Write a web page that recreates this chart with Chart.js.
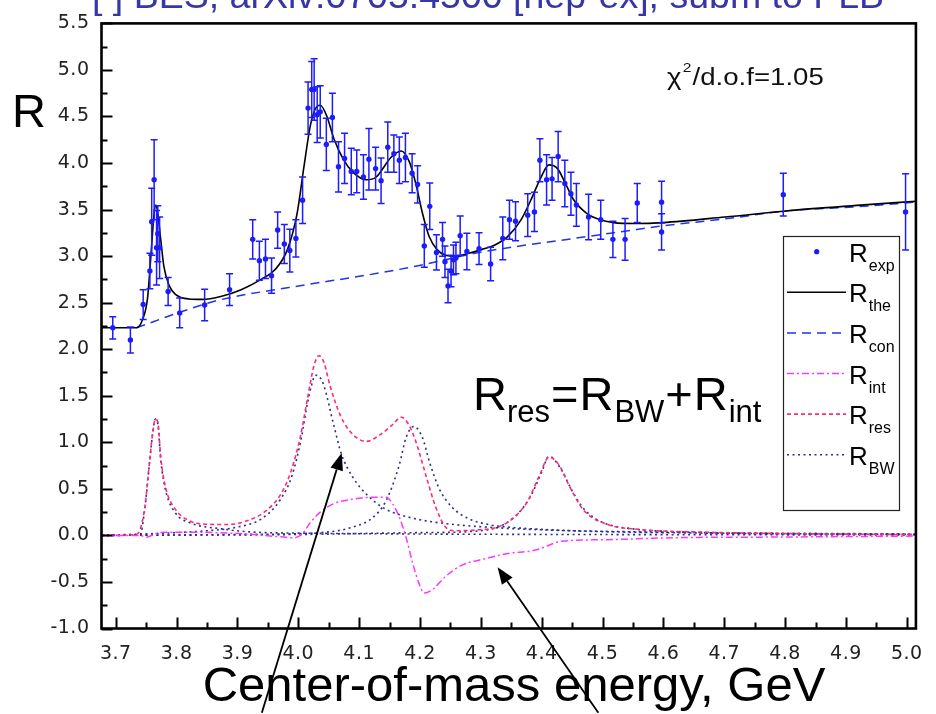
<!DOCTYPE html>
<html>
<head>
<meta charset="utf-8">
<script src="https://cdn.jsdelivr.net/npm/chart.js@4.4.1/dist/chart.umd.min.js"></script>
<style>
  html, body { margin: 0; padding: 0; background: #fff; overflow: hidden; }
  #wrap { position: relative; width: 936px; height: 714px; }
</style>
</head>
<body>
<div id="wrap"><canvas id="c" width="936" height="714"></canvas></div>
<script>
// ---- axis tick labels ----
const xTickLabels = ['3.7','3.8','3.9','4.0','4.1','4.2','4.3','4.4','4.5','4.6','4.7','4.8','4.9','5.0'];
const yTickLabels = ['-1.0','-0.5','0.0','0.5','1.0','1.5','2.0','2.5','3.0','3.5','4.0','4.5','5.0','5.5'];

// ---- measured R values (BES scan) with errors ----
const expEnergy = [3.695,3.724,3.745,3.756,3.759,3.763,3.767,3.769,3.772,3.786,3.805,3.846,3.887,
  3.925,3.936,3.946,3.956,3.966,3.977,3.986,3.996,4.007,4.016,4.022,4.026,4.031,4.036,4.046,4.056,
  4.066,4.076,4.087,4.096,4.107,4.116,4.127,4.136,4.147,4.157,4.166,4.176,4.187,4.196,4.207,4.216,
  4.227,4.237,4.241,4.246,4.251,4.255,4.259,4.266,4.277,4.297,4.316,4.336,4.347,4.357,4.377,4.388,
  4.397,4.408,4.417,4.427,4.438,4.448,4.457,4.477,4.497,4.517,4.537,4.557,4.597,4.597,4.797,4.998];
const expR = [2.23,2.10,2.48,2.84,3.37,3.82,3.09,3.24,3.09,2.62,2.39,2.475,2.64,
  3.18,2.95,2.97,2.79,3.28,3.13,3.06,3.19,3.60,4.59,4.79,4.79,4.52,4.55,4.20,4.49,
  3.96,4.05,3.91,3.91,3.85,4.04,3.94,3.81,4.17,4.10,4.03,4.06,3.89,3.77,3.11,3.535,
  3.04,3.18,2.94,2.68,2.84,2.96,2.98,3.22,3.05,3.08,2.915,3.19,3.39,3.375,3.44,3.475,
  4.03,3.82,3.83,4.07,3.78,3.67,3.55,3.42,3.39,3.18,3.18,3.57,3.58,3.26,3.66,3.475];
const expErr = [0.12,0.14,0.16,0.19,0.36,0.43,0.40,0.30,0.33,0.15,0.16,0.17,0.17,
  0.21,0.21,0.21,0.19,0.195,0.21,0.23,0.20,0.25,0.28,0.30,0.33,0.30,0.28,0.28,0.26,
  0.27,0.27,0.25,0.23,0.24,0.33,0.23,0.245,0.27,0.20,0.25,0.26,0.21,0.20,0.23,0.25,
  0.19,0.18,0.17,0.18,0.17,0.16,0.17,0.21,0.195,0.17,0.18,0.23,0.21,0.21,0.23,0.21,
  0.23,0.27,0.23,0.27,0.25,0.23,0.23,0.245,0.21,0.195,0.225,0.21,0.225,0.195,0.23,0.41];

// ---- fitted total R ----
const theE = [3.6765,3.734,3.744,3.752,3.758,3.763,3.766,3.769,3.774,3.779,3.788,3.798,3.820,3.842,
  3.874,3.906,3.939,3.961,3.982,3.998,4.009,4.020,4.031,4.036,4.047,4.058,4.074,4.090,4.112,4.128,
  4.144,4.152,4.169,4.182,4.193,4.204,4.215,4.228,4.242,4.258,4.280,4.301,4.323,4.344,4.366,4.382,
  4.399,4.412,4.426,4.439,4.453,4.474,4.496,4.518,4.555,4.599,4.701,4.809,4.918,5.015];
const theR = [2.23,2.23,2.32,2.54,3.03,3.46,3.55,3.46,3.17,2.89,2.68,2.59,2.54,2.535,
  2.57,2.64,2.75,2.85,3.07,3.46,3.95,4.41,4.61,4.62,4.50,4.27,4.04,3.90,3.82,3.85,
  3.99,4.06,4.13,4.02,3.78,3.46,3.21,3.07,3.01,3.00,3.03,3.07,3.12,3.21,3.39,3.60,
  3.85,3.98,3.94,3.78,3.60,3.46,3.39,3.36,3.35,3.36,3.42,3.49,3.545,3.59];

// ---- continuum ----
const conE = [3.734,3.820,3.874,3.982,4.134,4.199,4.290,4.355,4.453,4.539,4.593,4.701,4.809,4.918,5.015];
const conR = [2.23,2.43,2.535,2.66,2.82,2.90,3.03,3.10,3.19,3.27,3.32,3.40,3.49,3.53,3.58];

// ---- interference term ----
const intE = [3.6765,3.740,3.750,3.766,3.782,3.820,3.874,3.928,3.961,3.993,4.007,4.020,4.036,4.058,
  4.090,4.123,4.144,4.155,4.166,4.177,4.188,4.198,4.207,4.220,4.242,4.269,4.307,4.344,4.388,4.436,
  4.507,4.615,4.777,5.015];
const intR = [0,0,-0.02,0.02,0.035,0.035,0.028,0.01,-0.01,-0.025,0.02,0.14,0.25,0.34,
  0.39,0.41,0.41,0.34,0.195,-0.02,-0.30,-0.51,-0.62,-0.585,-0.44,-0.32,-0.25,-0.195,-0.16,-0.06,
  -0.046,-0.025,-0.018,-0.007];

// ---- resonant part ----
const resE = [3.6765,3.734,3.747,3.755,3.761,3.765,3.769,3.774,3.782,3.798,3.820,3.847,3.885,3.917,
  3.944,3.971,3.988,4.004,4.015,4.026,4.034,4.042,4.052,4.069,4.090,4.112,4.134,4.155,4.169,4.180,
  4.193,4.209,4.226,4.242,4.258,4.296,4.328,4.355,4.377,4.396,4.412,4.428,4.447,4.469,4.507,4.561,
  4.669,4.831,5.015];
const resR = [0,0.01,0.27,0.76,1.12,1.25,1.22,0.83,0.51,0.28,0.16,0.12,0.117,0.16,
  0.25,0.44,0.69,1.08,1.47,1.83,1.93,1.86,1.61,1.29,1.08,1.01,1.08,1.19,1.27,1.205,
  1.01,0.66,0.30,0.09,0.05,0.06,0.09,0.195,0.37,0.64,0.84,0.76,0.51,0.27,0.12,0.064,
  0.035,0.018,0.008];

// ---- Breit-Wigner terms: psi(3770), psi(4040), psi(4160), psi(4415) ----
const bw1E = [3.6765,3.740,3.747,3.755,3.761,3.765,3.769,3.774,3.782,3.798,3.820,3.874,3.928,4.000,4.200,4.600,5.015];
const bw1R = [0,0.01,0.25,0.75,1.12,1.25,1.20,0.80,0.48,0.24,0.14,0.07,0.035,0.025,0.015,0.008,0.005];
const bw2E = [3.6765,3.800,3.850,3.900,3.940,3.970,3.990,4.005,4.015,4.022,4.028,4.035,4.042,4.058,
  4.071,4.090,4.117,4.144,4.182,4.226,4.307,4.400,4.600,5.015];
const bw2R = [0,0.03,0.05,0.09,0.18,0.38,0.65,1.05,1.42,1.62,1.72,1.70,1.61,1.19,
  0.87,0.62,0.41,0.28,0.195,0.14,0.09,0.06,0.035,0.015];
const bw3E = [3.6765,3.900,4.036,4.090,4.123,4.144,4.166,4.177,4.190,4.204,4.215,4.231,4.253,4.280,
  4.318,4.344,4.450,4.600,5.015];
const bw3R = [0,0.01,0.03,0.09,0.195,0.37,0.76,1.05,1.17,1.05,0.80,0.51,0.30,0.18,
  0.11,0.09,0.05,0.03,0.01];
const bw4E = [3.6765,4.000,4.200,4.300,4.350,4.380,4.400,4.412,4.430,4.450,4.470,4.500,4.550,4.600,4.700,5.015];
const bw4R = [0,0.01,0.03,0.05,0.17,0.40,0.68,0.85,0.73,0.48,0.28,0.14,0.07,0.045,0.025,0.01];

const FONT = "'Liberation Sans', Arial, Helvetica, sans-serif";
const TICK_FONT = "'DejaVu Sans', 'Liberation Sans', sans-serif";
const COLORS = {
  exp: '#1c1cff', the: '#000000', con: '#1f35e6', int: '#ff36ff', res: '#ff2a78', bw: '#2c2c92',
  title: '#3636a8'
};

const xMajor = xTickLabels.map(Number);
const yMajor = yTickLabels.map(Number);
const xMinor = xMajor.slice(0, -1).map(v => +(v + 0.05).toFixed(2));
const yMinor = yMajor.slice(0, -1).map(v => +(v + 0.25).toFixed(2));

const pts = (xs, ys) => xs.map((x, i) => ({ x: x, y: ys[i] }));
const lineDs = (label, xs, ys, color, dash, width) => ({
  label: label, data: pts(xs, ys), showLine: true, borderColor: color, borderWidth: width || 1.5,
  borderDash: dash, pointRadius: 0, fill: false, cubicInterpolationMode: 'monotone'
});

const datasets = [
  { label: 'R_exp', data: pts(expEnergy, expR), showLine: false, pointRadius: 2.7,
    backgroundColor: COLORS.exp, borderColor: COLORS.exp, borderWidth: 0 },
  lineDs('R_the', theE, theR, COLORS.the, [], 1.6),
  lineDs('R_con', conE, conR, COLORS.con, [9, 6], 1.5),
  lineDs('R_int', intE, intR, COLORS.int, [7, 3, 2, 3], 1.5),
  lineDs('R_res', resE, resR, COLORS.res, [4, 3], 1.6),
  lineDs('R_BW', bw1E, bw1R, COLORS.bw, [2, 3.5], 1.6),
  lineDs('R_BW', bw2E, bw2R, COLORS.bw, [2, 3.5], 1.6),
  lineDs('R_BW', bw3E, bw3R, COLORS.bw, [2, 3.5], 1.6),
  lineDs('R_BW', bw4E, bw4R, COLORS.bw, [2, 3.5], 1.6)
];

function labelFor(value, majors, labels) {
  const i = majors.findIndex(v => Math.abs(v - value) < 1e-6);
  return i >= 0 ? labels[i] : '';
}

// draws a run of text pieces (main text, subscripts, superscripts)
function richText(ctx, x, y, parts, color, sx) {
  ctx.save();
  ctx.translate(x, y);
  ctx.scale(sx || 1, 1);
  ctx.textAlign = 'left';
  ctx.textBaseline = 'alphabetic';
  ctx.fillStyle = color;
  let cx = 0;
  for (const p of parts) {
    ctx.font = p.size + 'px ' + FONT;
    ctx.fillText(p.t, cx + (p.dx || 0), p.dy || 0);
    cx += ctx.measureText(p.t).width + (p.dx || 0);
  }
  ctx.restore();
}

function arrow(ctx, x0, y0, x1, y1) {
  const ang = Math.atan2(y1 - y0, x1 - x0);
  const L = 17, W = 6.5;
  const bx = x1 - L * Math.cos(ang), by = y1 - L * Math.sin(ang);
  ctx.beginPath();
  ctx.moveTo(x0, y0);
  ctx.lineTo(bx, by);
  ctx.stroke();
  ctx.beginPath();
  ctx.moveTo(x1, y1);
  ctx.lineTo(bx + W * Math.sin(ang), by - W * Math.cos(ang));
  ctx.lineTo(bx - W * Math.sin(ang), by + W * Math.cos(ang));
  ctx.closePath();
  ctx.fill();
}

// arrows pointing at R_BW (psi(4040) tail) and R_int, in data units
const arrows = [
  { from: [3.940, -1.906], to: [4.0713, 0.884] },
  { from: [4.493, -1.906], to: [4.3275, -0.341] }
];

const tickFont = { family: TICK_FONT, size: 19 };

const framePlugin = {
  id: 'frame',
  beforeDraw(chart) {
    chart.ctx.letterSpacing = '0.5px';
  },
  beforeDatasetsDraw(chart) {
    chart.ctx.letterSpacing = '0px';
  },
  afterDatasetsDraw(chart) {
    const ctx = chart.ctx, xs = chart.scales.x, ys = chart.scales.y;
    // error bars of the measured points
    ctx.save();
    ctx.strokeStyle = COLORS.exp;
    ctx.lineWidth = 1.5;
    expEnergy.forEach((e, i) => {
      const px = xs.getPixelForValue(e);
      const t = ys.getPixelForValue(expR[i] + expErr[i]);
      const b = ys.getPixelForValue(expR[i] - expErr[i]);
      ctx.beginPath();
      ctx.moveTo(px, t); ctx.lineTo(px, b);
      ctx.moveTo(px - 3.5, t); ctx.lineTo(px + 3.5, t);
      ctx.moveTo(px - 3.5, b); ctx.lineTo(px + 3.5, b);
      ctx.stroke();
    });
    ctx.restore();
  },
  afterDraw(chart) {
    const ctx = chart.ctx, xs = chart.scales.x, ys = chart.scales.y, a = chart.chartArea;
    ctx.save();
    ctx.letterSpacing = '0px';
    // inward ticks
    ctx.strokeStyle = '#000';
    ctx.lineWidth = 2;
    ctx.beginPath();
    xMajor.concat(xMinor).forEach(v => {
      const px = Math.round(xs.getPixelForValue(v)) + 0.5;
      const len = xMajor.includes(v) ? 11 : 6;
      ctx.moveTo(px, a.bottom); ctx.lineTo(px, a.bottom - len);
    });
    yMajor.concat(yMinor).forEach(v => {
      const py = Math.round(ys.getPixelForValue(v)) + 0.5;
      const len = yMajor.includes(v) ? 11 : 6;
      ctx.moveTo(a.left, py); ctx.lineTo(a.left + len, py);
    });
    ctx.stroke();
    // frame
    ctx.lineWidth = 2.6;
    ctx.strokeRect(a.left, a.top, a.right - a.left, a.bottom - a.top);

    // legend box
    const bx = 783.5, by = 236.5, bw = 116, bh = 274;
    ctx.fillStyle = '#fff';
    ctx.fillRect(bx, by, bw, bh);
    ctx.strokeStyle = '#222';
    ctx.lineWidth = 1.2;
    ctx.strokeRect(bx, by, bw, bh);
    const rows = [
      { sub: 'exp', ds: 0 }, { sub: 'the', ds: 1 }, { sub: 'con', ds: 2 },
      { sub: 'int', ds: 3 }, { sub: 'res', ds: 4 }, { sub: 'BW', ds: 5 }
    ];
    rows.forEach((r, i) => {
      const y = 251.7 + i * 40.6;
      const d = chart.data.datasets[r.ds];
      if (r.ds === 0) {
        ctx.fillStyle = d.backgroundColor;
        ctx.beginPath(); ctx.arc(816.7, y, 2.6, 0, Math.PI * 2); ctx.fill();
      } else {
        ctx.strokeStyle = d.borderColor;
        ctx.lineWidth = d.borderWidth;
        ctx.setLineDash(d.borderDash || []);
        ctx.beginPath(); ctx.moveTo(787, y); ctx.lineTo(846, y); ctx.stroke();
        ctx.setLineDash([]);
      }
      richText(ctx, 849, y + 10, [{ t: 'R', size: 26 }, { t: r.sub, size: 16, dy: 9, dx: 1 }], '#000');
    });

    // chi2 annotation
    richText(ctx, 667, 85, [{ t: '\u03C7', size: 23 }, { t: '2', size: 13, dy: -13, dx: 1 },
      { t: '/d.o.f=1.05', size: 23, dx: 1 }], '#111', 1.2);

    // R_res = R_BW + R_int
    richText(ctx, 473, 410, [
      { t: 'R', size: 47 }, { t: 'res', size: 31, dy: 12 }, { t: '=', size: 47, dx: 1 },
      { t: 'R', size: 47, dx: 1 }, { t: 'BW', size: 31, dy: 12, dx: 1 }, { t: '+', size: 47, dx: 1 },
      { t: 'R', size: 47, dx: 1 }, { t: 'int', size: 31, dy: 12, dx: 1 }], '#000');

    // axis titles
    ctx.fillStyle = '#000';
    ctx.textBaseline = 'alphabetic';
    ctx.font = '47px ' + FONT;
    ctx.textAlign = 'left';
    ctx.fillText('R', 12, 127);
    ctx.font = '49px ' + FONT;
    ctx.textAlign = 'center';
    ctx.fillText('Center-of-mass energy, GeV', 514, 701);

    // reference line at the top
    ctx.fillStyle = COLORS.title;
    ctx.font = '37.5px ' + FONT;
    ctx.textAlign = 'left';
    ctx.fillText('[ ] BES, arXiv:0705.4500 [hep-ex], subm to PLB', 92, 7.5);

    // arrows
    ctx.strokeStyle = '#000';
    ctx.fillStyle = '#000';
    ctx.lineWidth = 1.8;
    arrows.forEach(ar => {
      arrow(ctx, xs.getPixelForValue(ar.from[0]), ys.getPixelForValue(ar.from[1]),
        xs.getPixelForValue(ar.to[0]), ys.getPixelForValue(ar.to[1]));
    });
    ctx.restore();
  }
};

new Chart(document.getElementById('c'), {
  type: 'scatter',
  data: { datasets: datasets },
  options: {
    responsive: false,
    animation: false,
    devicePixelRatio: 1,
    layout: { padding: { top: 19, right: 9, left: 0, bottom: 0 } },
    plugins: { legend: { display: false }, tooltip: { enabled: false } },
    scales: {
      x: {
        type: 'linear', min: 3.6765, max: 5.015,
        afterBuildTicks: s => { s.ticks = xMajor.concat(xMinor).sort((a, b) => a - b).map(v => ({ value: v })); },
        afterFit: s => { s.height = 85.5; },
        grid: { display: false, drawTicks: false },
        border: { display: false },
        ticks: { autoSkip: false, maxRotation: 0, padding: 14, color: '#222', font: tickFont,
          callback: v => labelFor(v, xMajor, xTickLabels) }
      },
      y: {
        type: 'linear', min: -1.0, max: 5.5,
        afterBuildTicks: s => { s.ticks = yMajor.concat(yMinor).sort((a, b) => a - b).map(v => ({ value: v })); },
        afterFit: s => { s.width = 101.5; },
        grid: { display: false, drawTicks: false },
        border: { display: false },
        ticks: { autoSkip: false, padding: 12, color: '#222', font: tickFont,
          callback: v => labelFor(v, yMajor, yTickLabels) }
      }
    }
  },
  plugins: [framePlugin]
});
</script>
</body>
</html>
